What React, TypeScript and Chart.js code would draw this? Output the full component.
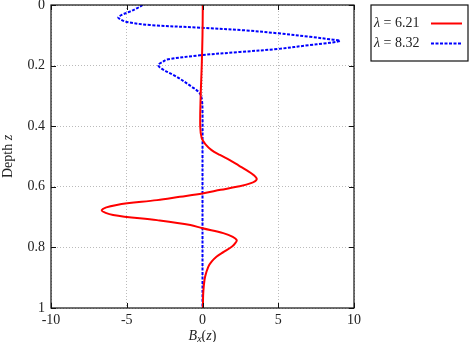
import React, { useEffect, useRef } from 'react';
import { Chart, registerables } from 'chart.js';

Chart.register(...registerables);

const X_TICKS = [-10, -5, 0, 5, 10];
const Y_TICKS = [0, 0.2, 0.4, 0.6, 0.8, 1];
const SERIES_LAMBDAS = ['6.21', '8.32'];

const redDepth = [0, 0.1, 0.2, 0.3, 0.4, 0.44, 0.46, 0.479, 0.495, 0.512, 0.53, 0.545, 0.56, 0.575, 0.588, 0.6, 0.61, 0.622, 0.633, 0.644, 0.66, 0.677, 0.693, 0.71, 0.726, 0.737, 0.753, 0.765, 0.776, 0.787, 0.798, 0.815, 0.83, 0.847, 0.864, 0.897, 0.93, 0.96, 1.0];
const redBx = [0.02, 0.0, -0.05, -0.12, -0.15, -0.05, 0.2, 0.6, 1.15, 1.8, 2.4, 2.9, 3.35, 3.58, 3.2, 2.26, 1.2, 0, -1.5, -3.0, -5.66, -6.65, -5.9, -3.0, -0.8, 0, 1.37, 2.0, 2.26, 2.15, 1.93, 1.4, 0.94, 0.6, 0.38, 0.17, 0.08, 0.04, 0.03];

const blueDepth = [0, 0.01, 0.022, 0.032, 0.041, 0.048, 0.056, 0.066, 0.075, 0.084, 0.0935, 0.105, 0.113, 0.118, 0.122, 0.127, 0.132, 0.145, 0.155, 0.166, 0.18, 0.187, 0.198, 0.21, 0.237, 0.27, 0.29, 0.31, 0.35, 0.5, 0.7, 1.0];
const blueBx = [-3.95, -4.3, -4.8, -5.3, -5.56, -5.4, -5.0, -3.47, -0.05, 2.9, 5.0, 7.1, 8.4, 9.08, 8.8, 8.0, 7.1, 5.0, 2.48, -0.17, -2.36, -2.6, -2.92, -2.7, -1.7, -0.71, -0.2, -0.05, 0, 0, 0, 0];

const RED = '#ff0000';
const BLUE = '#0000ff';
const TEXT = '#222222';
const FONT_FAMILY = '"Liberation Serif", "DejaVu Serif", serif';

function drawRich(ctx: CanvasRenderingContext2D, parts: { t: string; italic?: boolean; size?: number; dy?: number }[], cx: number, cy: number) {
  const widths = parts.map(p => {
    ctx.font = `${p.italic ? 'italic ' : ''}${p.size || 14}px ${FONT_FAMILY}`;
    return ctx.measureText(p.t).width;
  });
  const total = widths.reduce((a, b) => a + b, 0);
  let x = cx - total / 2;
  parts.forEach((p, i) => {
    ctx.font = `${p.italic ? 'italic ' : ''}${p.size || 14}px ${FONT_FAMILY}`;
    ctx.fillText(p.t, x, cy + (p.dy || 0));
    x += widths[i];
  });
}

const framePlugin = {
  id: 'frame',
  afterDatasetsDraw(chart: any) {
    const { ctx, chartArea: a, scales } = chart;
    ctx.save();
    ctx.strokeStyle = '#111';
    ctx.lineWidth = 1.2;
    ctx.setLineDash([]);
    ctx.strokeRect(a.left, a.top, a.right - a.left, a.bottom - a.top);
    const tl = 5;
    ctx.lineWidth = 1;
    ctx.beginPath();
    X_TICKS.forEach(v => {
      const px = Math.round(scales.x.getPixelForValue(v)) + 0.5;
      ctx.moveTo(px, a.top); ctx.lineTo(px, a.top + tl);
      ctx.moveTo(px, a.bottom); ctx.lineTo(px, a.bottom - tl);
    });
    Y_TICKS.forEach(v => {
      const py = Math.round(scales.y.getPixelForValue(v)) + 0.5;
      ctx.moveTo(a.left, py); ctx.lineTo(a.left + tl, py);
      ctx.moveTo(a.right, py); ctx.lineTo(a.right - tl, py);
    });
    ctx.stroke();

    // axis titles
    ctx.fillStyle = TEXT;
    ctx.textBaseline = 'middle';
    ctx.textAlign = 'left';
    drawRich(ctx, [
      { t: 'B', italic: true },
      { t: 'x', italic: true, size: 10, dy: 3 },
      { t: '(' },
      { t: 'z', italic: true },
      { t: ')' },
    ], (a.left + a.right) / 2, 336);

    ctx.save();
    ctx.translate(8, (a.top + a.bottom) / 2);
    ctx.rotate(-Math.PI / 2);
    drawRich(ctx, [{ t: 'Depth ' }, { t: 'z', italic: true }], 0, 0);
    ctx.restore();

    // legend
    const lx = 371, ly = 5, lw = 97, lh = 56;
    ctx.strokeStyle = '#111';
    ctx.lineWidth = 1.2;
    ctx.strokeRect(lx, ly, lw, lh);
    const rows = [
      { lam: SERIES_LAMBDAS[0], color: RED, dash: [] as number[], y: 23 },
      { lam: SERIES_LAMBDAS[1], color: BLUE, dash: [3, 1.5], y: 43 },
    ];
    rows.forEach(r => {
      ctx.fillStyle = TEXT;
      ctx.font = `italic 14px ${FONT_FAMILY}`;
      ctx.fillText('λ', 374, r.y);
      const w = ctx.measureText('λ').width;
      ctx.font = `14px ${FONT_FAMILY}`;
      ctx.fillText(' = ' + r.lam, 374 + w, r.y);
      ctx.strokeStyle = r.color;
      ctx.lineWidth = 2;
      ctx.setLineDash(r.dash);
      ctx.beginPath();
      ctx.moveTo(431, r.y + 0.5);
      ctx.lineTo(462, r.y + 0.5);
      ctx.stroke();
    });
    ctx.restore();
  },
};

export default function App() {
  const ref = useRef<HTMLCanvasElement | null>(null);
  useEffect(() => {
    document.body.style.margin = '0';
    if (!ref.current) return;
    const tickFont = { family: FONT_FAMILY, size: 14 };
    const chart = new Chart(ref.current, {
      type: 'line',
      data: {
        datasets: [
          {
            label: 'λ = ' + SERIES_LAMBDAS[0],
            data: redDepth.map((d, i) => ({ x: redBx[i], y: d })),
            borderColor: RED,
            borderWidth: 2,
            pointRadius: 0,
            fill: false,
            tension: 0.35,
          },
          {
            label: 'λ = ' + SERIES_LAMBDAS[1],
            data: blueDepth.map((d, i) => ({ x: blueBx[i], y: d })),
            borderColor: BLUE,
            borderWidth: 2,
            borderDash: [3, 1.5],
            pointRadius: 0,
            fill: false,
            tension: 0.35,
          },
        ],
      } as any,
      options: {
        responsive: false,
        animation: false,
        indexAxis: 'y',
        layout: { padding: { top: 5, right: 115, left: 0, bottom: 0 } },
        plugins: { legend: { display: false }, tooltip: { enabled: false } },
        elements: { point: { radius: 0 } },
        scales: {
          x: {
            type: 'linear',
            position: 'bottom',
            min: -10,
            max: 10,
            ticks: { stepSize: 5, font: tickFont, color: TEXT, padding: 4, maxRotation: 0 },
            grid: { color: '#bbbbbb', lineWidth: 1, drawTicks: false },
            border: { display: false, dash: [1, 2] },
            afterFit: (s: any) => { s.height = 34; s.paddingLeft = 0; s.paddingRight = 0; },
          },
          y: {
            type: 'linear',
            reverse: true,
            min: 0,
            max: 1,
            ticks: {
              stepSize: 0.2,
              font: tickFont,
              color: TEXT,
              padding: 6,
              callback: (v: any) => String(Math.round(Number(v) * 10) / 10),
            },
            grid: { color: '#bbbbbb', lineWidth: 1, drawTicks: false },
            border: { display: false, dash: [1, 2] },
            afterFit: (s: any) => { s.width = 51; s.paddingTop = 0; s.paddingBottom = 0; },
          },
        },
      } as any,
      plugins: [framePlugin],
    });
    return () => chart.destroy();
  }, []);
  return (
    <div style={{ position: 'absolute', left: 0, top: 0, width: 469, height: 342 }}>
      <canvas ref={ref} width={469} height={342} style={{ width: 469, height: 342 }} />
    </div>
  );
}
